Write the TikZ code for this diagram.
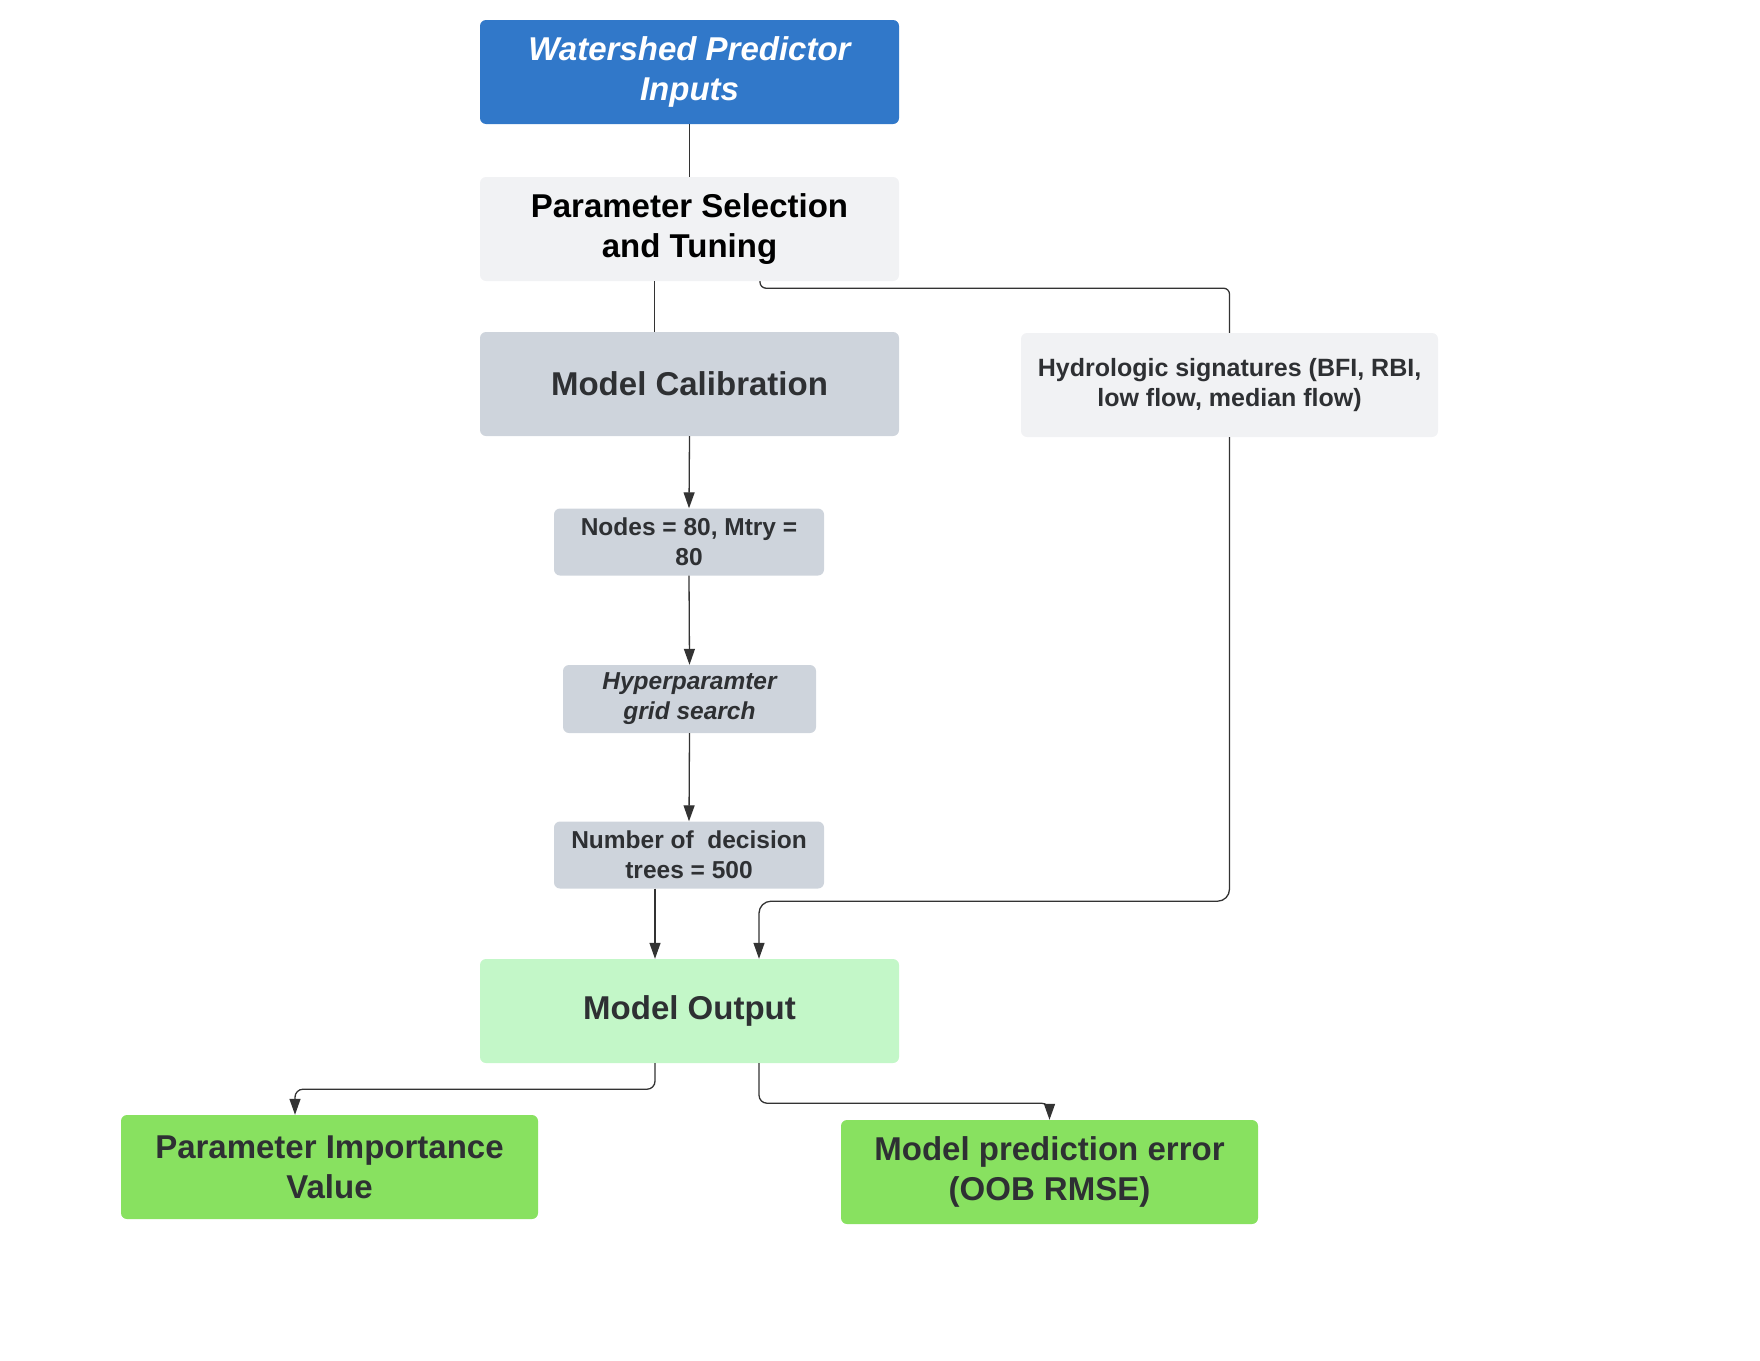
\documentclass[tikz,border=0pt]{standalone}
\usepackage{fontspec}
\setmainfont{Liberation Sans}
\usetikzlibrary{arrows.meta}
\definecolor{cblue}{HTML}{3178C9}
\definecolor{clight}{HTML}{F1F2F4}
\definecolor{cgray}{HTML}{CED4DC}
\definecolor{cmint}{HTML}{C3F7C8}
\definecolor{cgreen}{HTML}{88E160}
\definecolor{ctext}{HTML}{2E3033}
\definecolor{cline}{HTML}{333333}
\tikzset{
  box/.style={rounded corners=6pt, minimum width=419pt, minimum height=104pt, align=center, inner sep=0pt, font=\fontsize{33}{40}\selectfont\bfseries, text=ctext},
  smallbox/.style={rounded corners=6pt, minimum width=270pt, minimum height=67pt, align=center, inner sep=0pt, font=\fontsize{24.5}{30}\selectfont\bfseries, text=ctext, fill=cgray},
  conn/.style={draw=cline, line width=1.3pt},
  arr/.style={conn, -{Triangle[length=16pt,width=11pt]}},
}
\begin{document}
\begin{tikzpicture}[x=1pt,y=-1pt]
\useasboundingbox (0,0) rectangle (1760,1360);
\node[box, fill=cblue, text=white, font=\fontsize{33}{40}\selectfont\bfseries\itshape] (inp) at (689.5,72) {Watershed Predictor\\Inputs};
\node[box, fill=clight, text=black] (sel) at (689.5,229) {Parameter Selection\\and Tuning};
\node[box, fill=cgray] (cal) at (689.5,384) {Model Calibration};
\node[box, fill=clight, minimum width=417pt, font=\fontsize{25}{30}\selectfont\bfseries] (hyd) at (1229.5,385) {Hydrologic signatures (BFI, RBI,\\low flow, median flow)};
\node[smallbox] (nod) at (689,542) {Nodes = 80, Mtry =\\80};
\node[smallbox, minimum width=253pt, minimum height=68pt, font=\fontsize{24.5}{30}\selectfont\bfseries\itshape] (hyp) at (689.5,699) {Hyperparamter\\grid search};
\node[smallbox] (num) at (689,855) {Number of~ decision\\trees = 500};
\node[box, fill=cmint] (out) at (689.5,1011) {Model Output};
\node[box, fill=cgreen, minimum width=417pt] (imp) at (329.5,1167) {Parameter Importance\\Value};
\node[box, fill=cgreen, minimum width=417pt] (err) at (1049.5,1172) {Model prediction error\\(OOB RMSE)};

\draw[conn] (inp.south) -- (sel.north);
\draw[conn] ([xshift=-35pt]sel.south) -- ([xshift=-35pt]cal.north);
\draw[conn, rounded corners=6pt] ([xshift=70.5pt]sel.south) -- ++(0,7) -| (hyd.north);
\draw[arr] (cal.south) -- (nod.north);
\draw[arr] (nod.south) -- (hyp.north);
\draw[arr] (hyp.south) -- (num.north);
\draw[arr] ([xshift=-34pt]num.south) -- ([xshift=-34.5pt]out.north);
\draw[arr, rounded corners=12pt] (hyd.south) -- ++(0,464) -| ([xshift=69.5pt]out.north);
\draw[arr, rounded corners=8pt] ([xshift=-34.5pt]out.south) -- ++(0,26) -| ([xshift=-34.5pt]imp.north);
\draw[arr, rounded corners=8pt] ([xshift=69.5pt]out.south) -- ++(0,40) -| (err.north);
\end{tikzpicture}
\end{document}
